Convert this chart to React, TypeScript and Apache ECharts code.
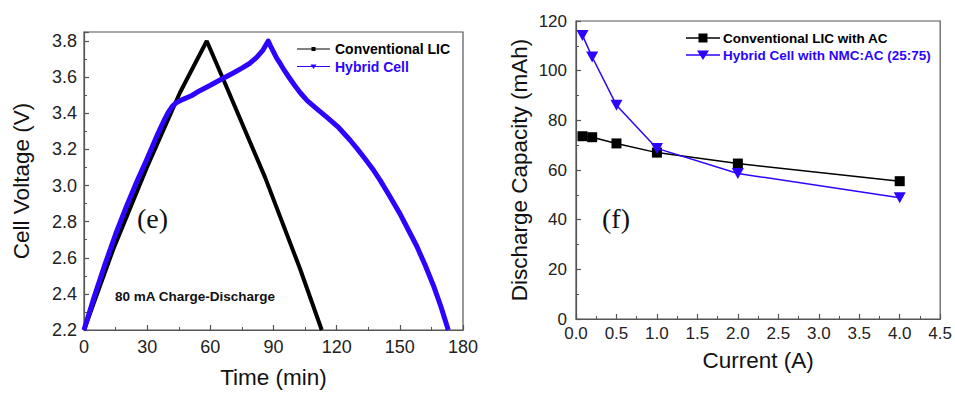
import React, { useEffect, useRef } from "react";
import * as echarts from "echarts";

// Left panel (e): charge-discharge curves
const blackTime = [0, 13.9, 29.8, 45.6, 58.3, 66.2, 86, 102.6, 112.9];
const blackVolt = [2.2, 2.647, 3.099, 3.515, 3.8, 3.587, 3.045, 2.539, 2.2];
const blueTime = [0, 5, 10, 15, 20, 25, 30, 35, 38, 40, 42, 44, 47, 51, 55, 60, 65, 70.9, 75, 78.8, 82, 85, 87.5,
  88.5, 90, 91.5, 93.1, 95, 97, 100, 102.6, 106, 110, 115.3, 121, 126.3, 129.5, 133, 137, 140.6, 145, 150.1, 154, 158, 162, 165.9, 169.5, 173];
const blueVolt = [2.2, 2.39, 2.565, 2.73, 2.88, 3.02, 3.15, 3.285, 3.36, 3.405, 3.44, 3.46, 3.477, 3.497, 3.525, 3.555, 3.587, 3.623, 3.65, 3.677, 3.71, 3.75, 3.8,
  3.775, 3.74, 3.705, 3.677, 3.64, 3.605, 3.555, 3.515, 3.47, 3.43, 3.379, 3.32, 3.252, 3.207, 3.155, 3.093, 3.03, 2.945, 2.843, 2.755, 2.665, 2.56, 2.448, 2.33, 2.2];
const leftNames = ["Conventional LIC", "Hybrid Cell"];

// Right panel (f): rate capability
const currents = [0.08, 0.2, 0.5, 1.0, 2.0, 4.0];
const capConventional = [73.6, 73.2, 70.7, 67.0, 62.6, 55.5];
const capHybrid = [114.2, 105.5, 86.1, 68.7, 58.6, 48.8];
const rightNames = ["Conventional LIC with AC", "Hybrid Cell with NMC:AC (25:75)"];

const BLUE = "#2c05ff";
const FRAME = "#555555";
const SANS = "'Liberation Sans', Arial, sans-serif";
const SERIF = "'Liberation Serif', 'Times New Roman', serif";

const zip = (a: number[], b: number[]) => a.map((v, i) => [v, b[i]]);

function axisCommon(fontSize: number, margin: number) {
  return {
    axisLine: { show: true, lineStyle: { color: FRAME, width: 1.2 } },
    axisTick: { show: true, inside: true, length: 5, lineStyle: { color: FRAME, width: 1.2 } },
    minorTick: { show: true, splitNumber: 2, length: 3, lineStyle: { color: FRAME, width: 1 } },
    splitLine: { show: false },
    axisLabel: { color: "#222", fontSize, fontFamily: SANS, margin },
    nameTextStyle: { color: "#111", fontSize: 22.5, fontFamily: SANS },
  };
}

export default function App() {
  const ref = useRef<HTMLDivElement>(null);
  useEffect(() => {
    if (!ref.current) return;
    const chart = echarts.init(ref.current, undefined, { renderer: "svg" });
    const option: any = {
      animation: false,
      backgroundColor: "#ffffff",
      grid: [
        { left: 84, top: 32, width: 379, height: 303, show: true, borderColor: FRAME, borderWidth: 1.2, backgroundColor: "transparent" },
        { left: 576, top: 21, width: 367, height: 298, show: true, borderColor: FRAME, borderWidth: 1.2, backgroundColor: "transparent" },
      ],
      xAxis: [
        {
          gridIndex: 0, type: "value", min: 0, max: 180, interval: 30,
          name: "Time (min)", nameLocation: "middle", nameGap: 36,
          ...axisCommon(18, 8),
        },
        {
          gridIndex: 1, type: "value", min: 0, max: 4.5, interval: 0.5,
          name: "Current (A)", nameLocation: "middle", nameGap: 30,
          ...axisCommon(17, 6),
          axisLabel: { color: "#222", fontSize: 17, fontFamily: SANS, margin: 6, formatter: (v: number) => v.toFixed(1) },
        },
      ],
      yAxis: [
        {
          gridIndex: 0, type: "value", min: 2.2, max: 3.85, interval: 0.2,
          name: "Cell Voltage (V)", nameLocation: "middle", nameGap: 51,
          ...axisCommon(18, 7),
          axisLabel: { color: "#222", fontSize: 18, fontFamily: SANS, margin: 7, showMaxLabel: false, formatter: (v: number) => v.toFixed(1) },
        },
        {
          gridIndex: 1, type: "value", min: 0, max: 120, interval: 20,
          name: "Discharge Capacity (mAh)", nameLocation: "middle", nameGap: 45,
          ...axisCommon(17, 9),
        },
      ],
      series: [
        {
          name: leftNames[0], type: "line", xAxisIndex: 0, yAxisIndex: 0,
          data: zip(blackTime, blackVolt), symbol: "none",
          lineStyle: { color: "#000", width: 4 }, itemStyle: { color: "#000" }, z: 2,
        },
        {
          name: leftNames[1], type: "line", xAxisIndex: 0, yAxisIndex: 0,
          data: zip(blueTime, blueVolt), symbol: "none",
          lineStyle: { color: BLUE, width: 5, join: "round" }, itemStyle: { color: BLUE }, z: 3,
        },
        {
          name: rightNames[0], type: "line", xAxisIndex: 1, yAxisIndex: 1,
          data: zip(currents, capConventional), symbol: "rect", symbolSize: 10,
          lineStyle: { color: "#000", width: 1.5 }, itemStyle: { color: "#000" }, z: 2,
        },
        {
          name: rightNames[1], type: "line", xAxisIndex: 1, yAxisIndex: 1,
          data: zip(currents, capHybrid), symbol: "triangle", symbolRotate: 180, symbolSize: [12, 11],
          lineStyle: { color: BLUE, width: 1.5 }, itemStyle: { color: BLUE }, z: 3,
        },
      ],
      graphic: [
        // left legend
        { type: "line", shape: { x1: 297, y1: 49, x2: 330, y2: 49 }, style: { stroke: "#000", lineWidth: 1 } },
        { type: "rect", shape: { x: 311.5, y: 47, width: 4, height: 4 }, style: { fill: "#000" } },
        { type: "text", x: 335, y: 49, style: { text: leftNames[0], fill: "#000", font: `bold 14px ${SANS}`, verticalAlign: "middle" } },
        { type: "line", shape: { x1: 297, y1: 66.5, x2: 330, y2: 66.5 }, style: { stroke: BLUE, lineWidth: 1 } },
        { type: "polygon", shape: { points: [[310.5, 64.5], [316.5, 64.5], [313.5, 69]] }, style: { fill: BLUE } },
        { type: "text", x: 335, y: 66.5, style: { text: leftNames[1], fill: BLUE, font: `bold 14px ${SANS}`, verticalAlign: "middle" } },
        // right legend
        { type: "line", shape: { x1: 686, y1: 38, x2: 720, y2: 38 }, style: { stroke: "#000", lineWidth: 1.5 } },
        { type: "rect", shape: { x: 698.5, y: 33.5, width: 9, height: 9 }, style: { fill: "#000" } },
        { type: "text", x: 723, y: 38, style: { text: rightNames[0], fill: "#000", font: `bold 13.5px ${SANS}`, verticalAlign: "middle" } },
        { type: "line", shape: { x1: 686, y1: 55, x2: 720, y2: 55 }, style: { stroke: BLUE, lineWidth: 1.5 } },
        { type: "polygon", shape: { points: [[697, 50.5], [709, 50.5], [703, 60]] }, style: { fill: BLUE } },
        { type: "text", x: 723, y: 55, style: { text: rightNames[1], fill: BLUE, font: `bold 13.5px ${SANS}`, verticalAlign: "middle" } },
        // annotations
        { type: "text", x: 137, y: 218, style: { text: "(e)", fill: "#111", font: `28px ${SERIF}`, verticalAlign: "middle" } },
        { type: "text", x: 115, y: 296, style: { text: "80 mA Charge-Discharge", fill: "#111", font: `bold 13.5px ${SANS}`, verticalAlign: "middle" } },
        { type: "text", x: 602, y: 218, style: { text: "(f)", fill: "#111", font: `28px ${SERIF}`, verticalAlign: "middle" } },
      ],
    };
    chart.setOption(option);
    return () => chart.dispose();
  }, []);
  return (
    <div
      ref={ref}
      style={{ position: "fixed", left: 0, top: 0, width: 955, height: 394, background: "#fff" }}
    />
  );
}
